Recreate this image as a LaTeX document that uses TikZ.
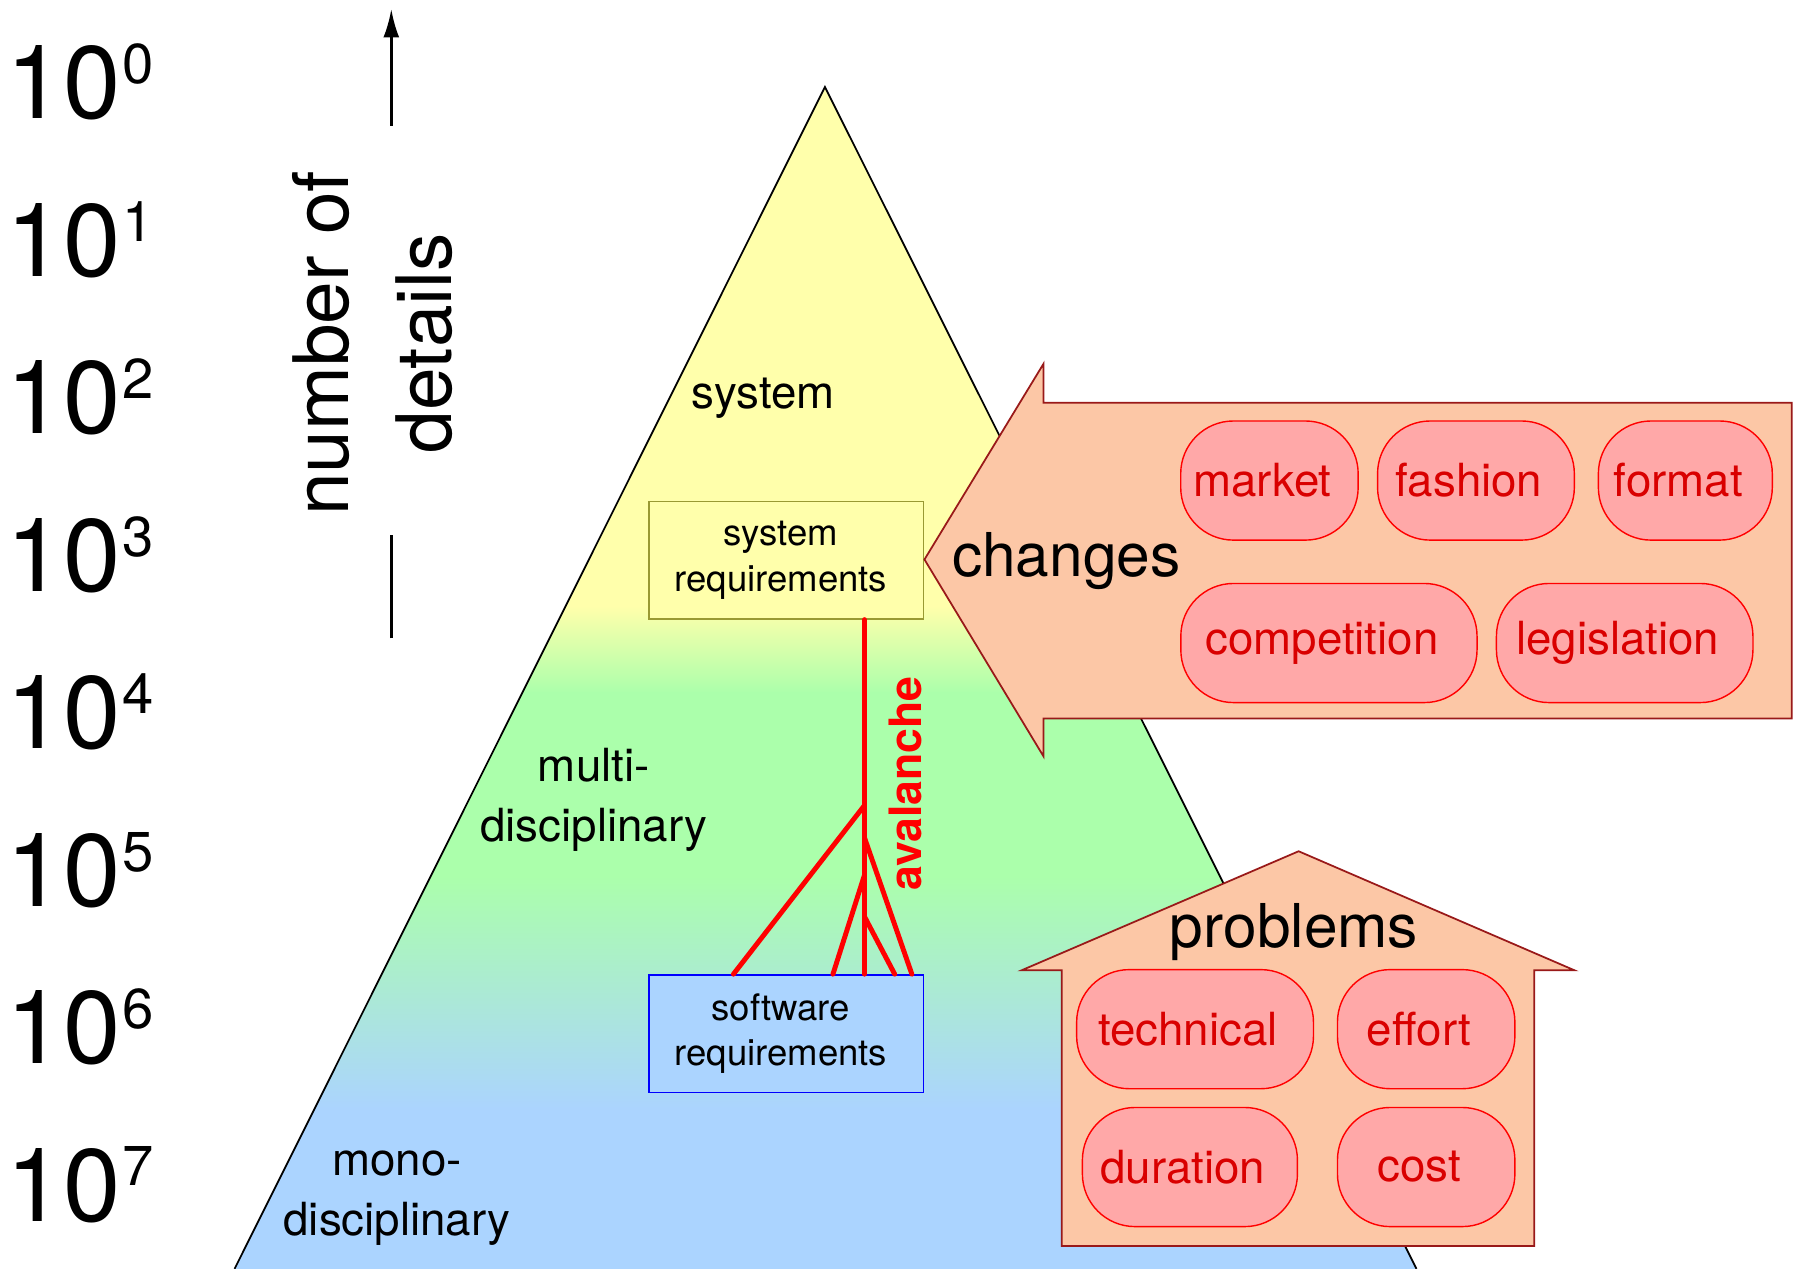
\documentclass[tikz,border=0pt]{standalone}
\usepackage{fontspec}
\setmainfont{TeX Gyre Heros}
\usetikzlibrary{arrows.meta}
\definecolor{myellow}{rgb}{1, 1, 0.67}
\definecolor{mgreen}{rgb}{0.67, 1, 0.67}
\definecolor{mblue}{rgb}{0.67, 0.83, 1}
\definecolor{mpeach}{rgb}{0.99, 0.78, 0.65}
\definecolor{mpink}{rgb}{1, 0.66, 0.66}
\definecolor{mred}{rgb}{0.85, 0, 0}
\definecolor{mdarkred}{rgb}{0.6, 0.1, 0.1}
\definecolor{molive}{rgb}{0.6, 0.6, 0.2}

\begin{document}
\begin{tikzpicture}[x=0.011441cm, y=-0.011441cm,
    pill/.style={draw=red, fill=mpink, text=mred, rounded corners=15pt, minimum height=33.9pt, inner sep=0pt, font=\fontsize{13}{15}\selectfont, execute at end node=\hspace*{4pt}},
    reqbox/.style={minimum width=78.1pt, minimum height=33.5pt, align=center, inner sep=0pt, font=\fontsize{10.4}{13}\selectfont},
    zonetext/.style={align=center, font=\fontsize{13}{17}\selectfont},
    bigtext/.style={font=\fontsize{17.2}{20}\selectfont},
    banner/.style={draw=mdarkred, fill=mpeach, line width=0.5pt},
    aval/.style={red, line width=1.4pt, line cap=round}]
    \useasboundingbox (0, 0) rectangle (1568, 1109);

    % scale on the left
    \foreach \k in {0,...,7}
      \node [anchor=base west, inner sep=0pt] (exp\k) at (5, 104 + 137.6*\k) {\fontsize{29.3}{30}\selectfont 10\hspace{0.5pt}\raisebox{10pt}{\fontsize{16}{16}\selectfont \k}};

    \node [rotate=90, align=center, font=\fontsize{21.8}{29.3}\selectfont] (axis) at (326, 300) {number of\\details};
    \coordinate (axtop) at (342, 8);
    \coordinate (axhi) at (342, 110);
    \coordinate (axlo) at (342, 468);
    \coordinate (axbot) at (342, 558);
    \draw [line width=0.7pt, -{Latex[length=8pt, width=4.5pt]}] (axhi) -- (axtop);
    \draw [line width=0.7pt] (axbot) -- (axlo);

    % pyramid
    \coordinate (apex) at (721, 76);
    \coordinate (lcorner) at (205, 1109);
    \coordinate (rcorner) at (1238, 1109);
    \begin{scope}
      \clip (apex) -- (lcorner) -- (rcorner) -- cycle;
      \fill [myellow] (0, 0) rectangle (1568, 531);
      \shade [top color=myellow, bottom color=mgreen] (0, 530) rectangle (1568, 606);
      \fill [mgreen] (0, 605) rectangle (1568, 766);
      \shade [top color=mgreen, bottom color=mblue] (0, 765) rectangle (1568, 971);
      \fill [mblue] (0, 970) rectangle (1568, 1110);
    \end{scope}
    \draw [line width=0.5pt] (lcorner) -- (apex) -- (rcorner);

    \node [zonetext] (sys) at (667, 348) {system};
    \node [zonetext] (multi) at (519, 699) {multi-\\disciplinary};
    \node [zonetext] (mono) at (347, 1047) {mono-\\disciplinary};

    \node [reqbox, draw=molive, fill=myellow] (sysreq) at (687, 489.5) {system\hspace*{3pt}\\requirements\hspace*{3pt}};
    \node [reqbox, draw=blue, fill=mblue] (swreq) at (687, 903.5) {software\hspace*{3pt}\\requirements\hspace*{3pt}};

    % avalanche
    \coordinate (fork1) at (755.5, 704);
    \coordinate (fork2) at (755.5, 732);
    \coordinate (fork3) at (755.5, 765);
    \coordinate (fork4) at (755.5, 801);
    \coordinate (end1) at (641, 852);
    \coordinate (end2) at (797, 852);
    \coordinate (end3) at (728, 852);
    \coordinate (end4) at (782, 852);
    \draw [aval] (sysreq.south -| fork1) -- (swreq.north -| fork1);
    \draw [aval] (fork1) -- (swreq.north -| end1);
    \draw [aval] (fork2) -- (swreq.north -| end2);
    \draw [aval] (fork3) -- (swreq.north -| end3);
    \draw [aval] (fork4) -- (swreq.north -| end4);
    \node [rotate=90, text=red, font=\bfseries\fontsize{12.7}{14}\selectfont] (avalanche) at (791, 685) {avalanche};

    % changes
    \draw [banner] (808, 489) -- (912, 318) -- (912, 352) -- (1566, 352) -- (1566, 628) -- (912, 628) -- (912, 661) -- cycle;
    \node [bigtext] (changes) at (932, 490) {changes};
    \node [pill, minimum width=50.5pt] (market) at (1109.5, 420) {market};
    \node [pill, minimum width=56pt] (fashion) at (1290, 420) {fashion};
    \node [pill, minimum width=49.5pt] (format) at (1473, 420) {format};
    \node [pill, minimum width=84.3pt] (competition) at (1161.5, 562) {competition};
    \node [pill, minimum width=73pt] (legislation) at (1420, 562) {legislation};

    % problems
    \draw [banner] (1135, 744) -- (1376, 848) -- (1341, 848) -- (1341, 1089) -- (928, 1089) -- (928, 848) -- (893, 848) -- cycle;
    \node [bigtext] (problems) at (1131, 815) {problems};
    \node [pill, minimum width=67.4pt] (technical) at (1044.5, 899.5) {technical};
    \node [pill, minimum width=50.5pt] (effort) at (1246.5, 899.5) {effort};
    \node [pill, minimum width=61.2pt] (duration) at (1040, 1020) {duration};
    \node [pill, minimum width=50.5pt] (cost) at (1246.5, 1020) {cost};
  \end{tikzpicture}
\end{document}
